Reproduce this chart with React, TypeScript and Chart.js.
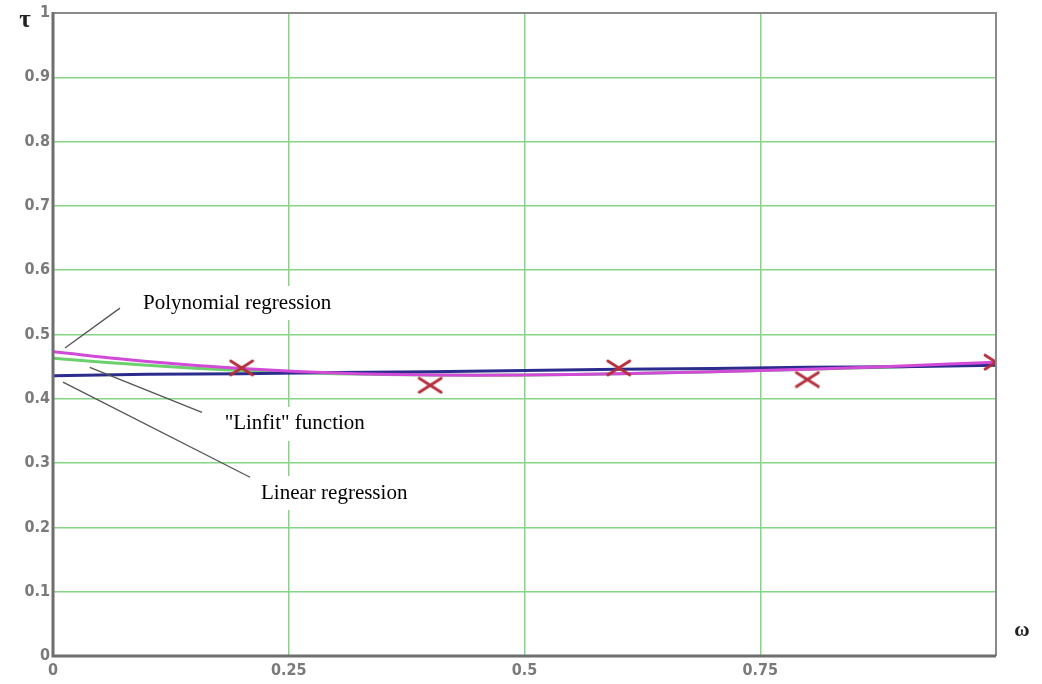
import React, { useEffect, useRef } from "react";
import { Chart, registerables } from "chart.js";

Chart.register(...registerables);

const xValues = [0, 0.1, 0.2, 0.3, 0.4, 0.5, 0.6, 0.7, 0.8, 0.9, 1.0];
const polyValues = [0.473, 0.458, 0.447, 0.440, 0.437, 0.437, 0.439, 0.442, 0.446, 0.451, 0.457];
const linfitValues = [0.463, 0.452, 0.444, 0.439, 0.437, 0.437, 0.439, 0.442, 0.446, 0.450, 0.455];
const linearValues = [0.436, 0.438, 0.439, 0.441, 0.442, 0.444, 0.446, 0.447, 0.449, 0.450, 0.452];
const obsX = [0.2, 0.4, 0.6, 0.8, 1.0];
const obsY = [0.448, 0.421, 0.448, 0.43, 0.457];
const hiddenXTick = 1;

const annotations = [
  { text: "Polynomial regression", tx: 0.0954, ty: 0.549, fromX: 0.0127, fromY: 0.479, toX: 0.071, toY: 0.541 },
  { text: "\"Linfit\" function", tx: 0.182, ty: 0.361, fromX: 0.039, fromY: 0.449, toX: 0.158, toY: 0.379 },
  { text: "Linear regression", tx: 0.2206, ty: 0.2535, fromX: 0.0106, fromY: 0.426, toX: 0.209, toY: 0.278 },
];

const pairs = (ys: number[]) => xValues.map((x, i) => ({ x, y: ys[i] }));

function makeCross(): HTMLCanvasElement {
  const c = document.createElement("canvas");
  c.width = 26;
  c.height = 18;
  const g = c.getContext("2d")!;
  g.strokeStyle = "#b52f3c";
  g.lineWidth = 2.8;
  g.lineCap = "round";
  g.beginPath();
  g.moveTo(2, 2);
  g.lineTo(24, 16);
  g.moveTo(24, 2);
  g.lineTo(2, 16);
  g.stroke();
  return c;
}

const decorPlugin = {
  id: "decor",
  afterDatasetsDraw(chart: any) {
    const { ctx, chartArea, scales } = chart;
    const xs = scales.x;
    const ys = scales.y;
    ctx.save();
    // frame
    ctx.strokeStyle = "#8a8a8a";
    ctx.lineWidth = 2;
    ctx.beginPath();
    ctx.moveTo(chartArea.left, chartArea.top);
    ctx.lineTo(chartArea.right, chartArea.top);
    ctx.lineTo(chartArea.right, chartArea.bottom);
    ctx.stroke();
    ctx.strokeStyle = "#6e6e6e";
    ctx.lineWidth = 3;
    ctx.beginPath();
    ctx.moveTo(chartArea.left, chartArea.top - 1);
    ctx.lineTo(chartArea.left, chartArea.bottom);
    ctx.lineTo(chartArea.right, chartArea.bottom);
    ctx.stroke();

    // annotations
    ctx.font = "21px 'Liberation Serif', 'Times New Roman', serif";
    ctx.textBaseline = "middle";
    ctx.textAlign = "left";
    for (const a of annotations) {
      ctx.strokeStyle = "#555";
      ctx.lineWidth = 1.3;
      ctx.beginPath();
      ctx.moveTo(xs.getPixelForValue(a.fromX), ys.getPixelForValue(a.fromY));
      ctx.lineTo(xs.getPixelForValue(a.toX), ys.getPixelForValue(a.toY));
      ctx.stroke();
      const px = xs.getPixelForValue(a.tx);
      const py = ys.getPixelForValue(a.ty);
      const w = ctx.measureText(a.text).width;
      ctx.fillStyle = "#ffffff";
      ctx.fillRect(px - 7, py - 17, w + 14, 34);
      ctx.fillStyle = "#000000";
      ctx.fillText(a.text, px, py);
    }

    // axis symbols
    ctx.fillStyle = "#222";
    ctx.font = "bold 25px 'Liberation Serif', 'Times New Roman', serif";
    ctx.textAlign = "center";
    ctx.fillText("τ", chartArea.left - 28, chartArea.top + 8);
    ctx.font = "bold 21px 'Liberation Serif', 'Times New Roman', serif";
    ctx.fillText("ω", chartArea.right + 26, chartArea.bottom - 25);
    ctx.restore();
  },
};

export default function App() {
  const canvasRef = useRef<HTMLCanvasElement | null>(null);

  useEffect(() => {
    if (!canvasRef.current) return;
    const crossImg = makeCross();
    const tickFont = { family: "'DejaVu Sans Condensed', 'DejaVu Sans', sans-serif", size: 16, weight: "bold" as const };
    const gridColor = (c: any) =>
      c.tick && (c.tick.value === 0 || c.tick.value === 1) ? "rgba(0,0,0,0)" : "#86d486";
    const chart = new Chart(canvasRef.current, {
      type: "scatter",
      data: {
        datasets: [
          {
            label: "Observed",
            data: obsX.map((x, i) => ({ x, y: obsY[i] })),
            showLine: false,
            pointStyle: crossImg,
            pointRadius: 10,
            borderColor: "#b52f3c",
            backgroundColor: "#b52f3c",
            clip: 0,
          } as any,
          {
            label: "Polynomial regression",
            data: pairs(polyValues),
            showLine: true,
            pointRadius: 0,
            borderColor: "#d24ad8",
            borderWidth: 3,
            tension: 0.3,
          },
          {
            label: "Linear regression",
            data: pairs(linearValues),
            showLine: true,
            pointRadius: 0,
            borderColor: "#2c2c8e",
            borderWidth: 3,
          },
          {
            label: "Linfit",
            data: pairs(linfitValues),
            showLine: true,
            pointRadius: 0,
            borderColor: "#6cd06c",
            borderWidth: 3,
            tension: 0.3,
          },
        ],
      },
      options: {
        animation: false,
        responsive: true,
        maintainAspectRatio: false,
        layout: { padding: { left: 0, top: 13, right: 46, bottom: 0 } },
        plugins: { legend: { display: false }, tooltip: { enabled: false } },
        scales: {
          x: {
            type: "linear",
            min: 0,
            max: 1,
            afterFit: (s: any) => { s.height = 28; },
            border: { display: false },
            grid: { drawTicks: false, lineWidth: 1.5, color: gridColor },
            ticks: {
              stepSize: 0.25,
              padding: 5,
              color: "#7a7a7a",
              font: tickFont,
              callback: (v: any) => (v === hiddenXTick ? "" : String(v)),
            },
          },
          y: {
            type: "linear",
            min: 0,
            max: 1,
            afterFit: (s: any) => { s.width = 53; },
            border: { display: false },
            grid: { drawTicks: false, lineWidth: 1.5, color: gridColor },
            ticks: {
              stepSize: 0.1,
              padding: 3,
              color: "#7a7a7a",
              font: tickFont,
              callback: (v: any) => String(Number(Number(v).toFixed(2))),
            },
          },
        },
      },
      plugins: [decorPlugin],
    });
    return () => chart.destroy();
  }, []);

  return (
    <div style={{ position: "fixed", left: 0, top: 0, width: 1042, height: 684, background: "#fff" }}>
      <canvas ref={canvasRef} />
    </div>
  );
}
